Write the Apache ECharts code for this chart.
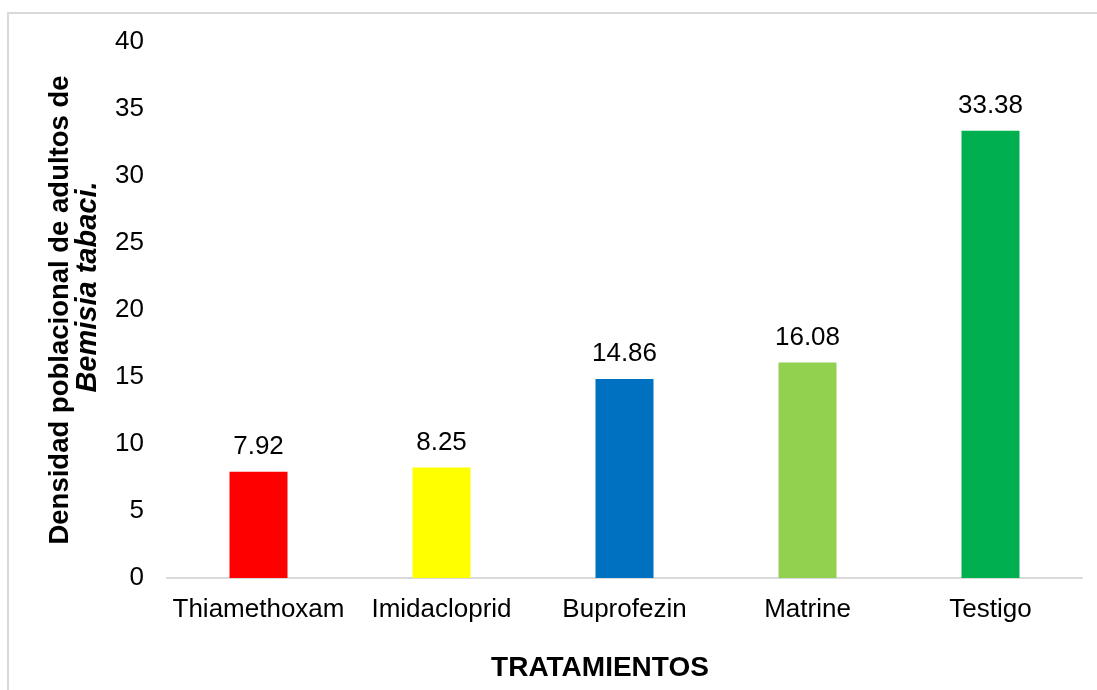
<!DOCTYPE html>
<html>
<head>
<meta charset="utf-8">
<script src="https://cdn.jsdelivr.net/npm/echarts@6/dist/echarts.min.js"></script>
<style>
  html, body { margin: 0; padding: 0; background: #fff; }
  #chart { width: 1097px; height: 690px; }
</style>
</head>
<body>
<div id="chart"></div>
<script>
// Treatments and mean adult density per treatment
const categories = ['Thiamethoxam', 'Imidacloprid', 'Buprofezin', 'Matrine', 'Testigo'];
const values = [7.92, 8.25, 14.86, 16.08, 33.38];
const barColors = ['#FF0000', '#FFFF00', '#0070C0', '#92D050', '#00B050'];
const yTitleLine1 = 'Densidad poblacional de adultos de';
const yTitleLine2 = 'Bemisia tabaci.';
const xTitle = 'TRATAMIENTOS';

const FONT = '"Liberation Sans", Arial, Helvetica, sans-serif';

const chart = echarts.init(document.getElementById('chart'), null, { renderer: 'canvas' });

chart.setOption({
  animation: false,
  backgroundColor: '#fff',
  grid: { left: 167, right: 15, top: 42, bottom: 112, containLabel: false },
  graphic: [
    {
      type: 'rect',
      shape: { x: 8, y: 13, width: 1100, height: 700 },
      style: { fill: 'none', stroke: '#d9d9d9', lineWidth: 2 },
      silent: true
    },
    {
      type: 'text',
      x: 600,
      y: 668,
      style: {
        text: xTitle,
        fontFamily: FONT,
        fontSize: 28,
        fontWeight: 'bold',
        fill: '#000',
        align: 'center',
        verticalAlign: 'middle'
      }
    }
  ],
  xAxis: {
    type: 'category',
    data: categories,
    axisLine: { show: true, lineStyle: { color: '#d9d9d9', width: 2 } },
    axisTick: { show: false },
    axisLabel: { interval: 0, color: '#000', fontFamily: FONT, fontSize: 26, margin: 19 }
  },
  yAxis: {
    type: 'value',
    min: 0,
    max: 40,
    interval: 5,
    splitLine: { show: false },
    axisLine: { show: false },
    axisTick: { show: false },
    axisLabel: { color: '#000', fontFamily: FONT, fontSize: 26, margin: 23 },
    name: '{a|' + yTitleLine1 + '}\n{b|' + yTitleLine2 + '}',
    nameLocation: 'middle',
    nameRotate: 90,
    nameGap: 66,
    nameTextStyle: {
      align: 'center',
      rich: {
        a: { fontFamily: FONT, fontSize: 27.5, fontWeight: 'bold', color: '#000', lineHeight: 27 },
        b: { fontFamily: FONT, fontSize: 29, fontWeight: 'bold', fontStyle: 'italic', color: '#000', lineHeight: 27, padding: [0, 0, 0, 46] }
      }
    }
  },
  series: [{
    type: 'bar',
    barWidth: 58,
    data: values.map((v, i) => ({ value: v, itemStyle: { color: barColors[i] } })),
    label: {
      show: true,
      position: 'top',
      distance: 12,
      color: '#000',
      fontFamily: FONT,
      fontSize: 26,
      formatter: p => p.value.toFixed(2)
    }
  }]
});
</script>
</body>
</html>
